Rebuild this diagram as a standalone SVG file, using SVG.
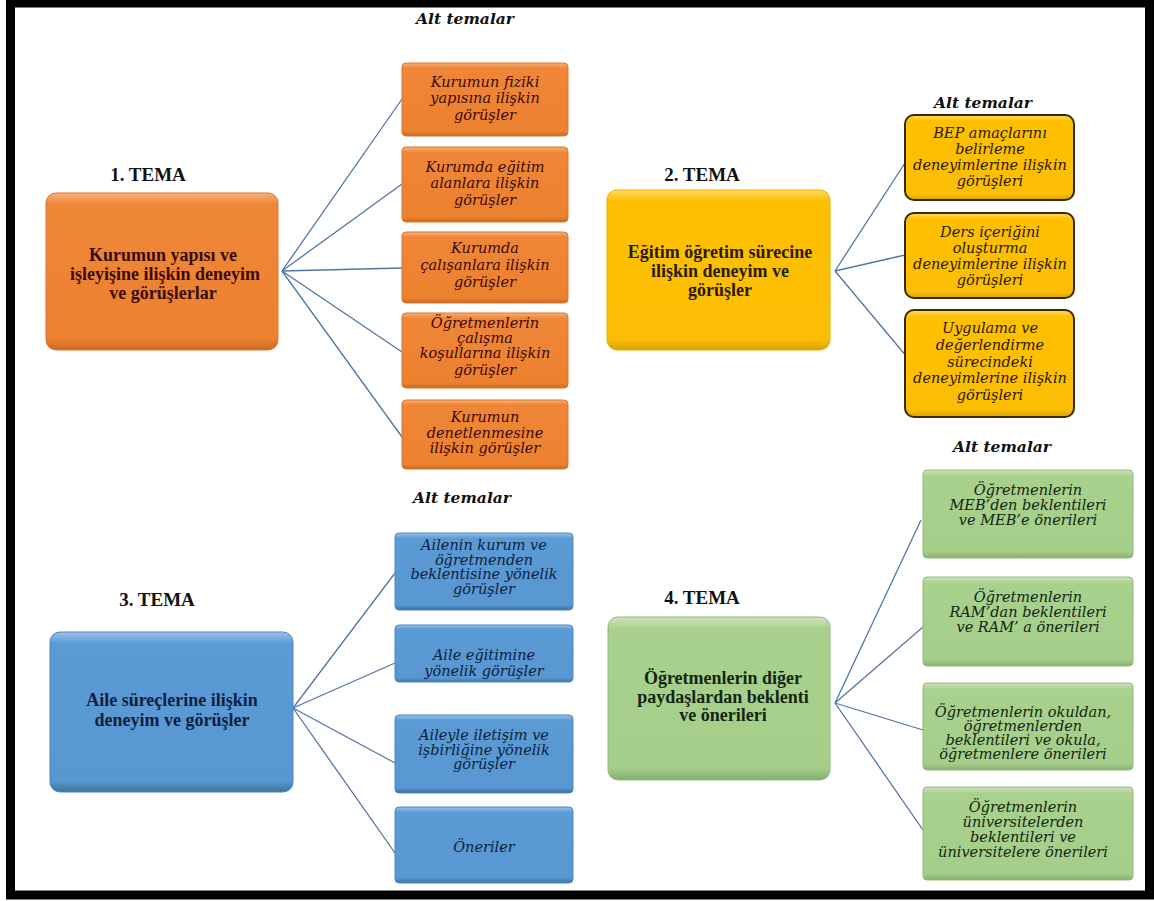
<svg xmlns="http://www.w3.org/2000/svg" width="1154" height="901" viewBox="0 0 1154 901">
<defs>
<linearGradient id="gO" x1="0" y1="0" x2="0" y2="1"><stop offset="0" stop-color="#F7B27A"/><stop offset="0.07" stop-color="#EF8638"/><stop offset="0.93" stop-color="#EC812F"/><stop offset="1" stop-color="#C96A22"/></linearGradient>
<linearGradient id="gY" x1="0" y1="0" x2="0" y2="1"><stop offset="0" stop-color="#FFD966"/><stop offset="0.07" stop-color="#FFC000"/><stop offset="0.93" stop-color="#FCBE05"/><stop offset="1" stop-color="#D9A300"/></linearGradient>
<linearGradient id="gB" x1="0" y1="0" x2="0" y2="1"><stop offset="0" stop-color="#9DC3E6"/><stop offset="0.07" stop-color="#5B9BD5"/><stop offset="0.93" stop-color="#5897D2"/><stop offset="1" stop-color="#41719C"/></linearGradient>
<linearGradient id="gG" x1="0" y1="0" x2="0" y2="1"><stop offset="0" stop-color="#CFE3C0"/><stop offset="0.07" stop-color="#A9D18E"/><stop offset="0.93" stop-color="#A6CE8B"/><stop offset="1" stop-color="#86AD6C"/></linearGradient>
</defs>
<style>
.frame{fill:none;stroke:#000;stroke-width:9}
.conn line{stroke:#4F77A6;stroke-width:1.3}
.tema{font-family:"Liberation Serif",serif;font-weight:bold;font-size:19px;fill:#111;text-anchor:middle}
.alt{font-family:"DejaVu Serif",serif;font-weight:bold;font-style:italic;font-size:15.5px;fill:#111;text-anchor:middle}
.main{font-family:"Liberation Serif",serif;font-weight:bold;font-size:18px;text-anchor:middle}
.sub{font-family:"DejaVu Serif",serif;font-style:italic;font-size:14.5px;text-anchor:middle}
.o .main,.o .sub{fill:#3A0A05}
.y .main,.y .sub{fill:#2A1A00}
.b .main,.b .sub{fill:#0E1E3C}
.g .main,.g .sub{fill:#122612}
.o rect{fill:url(#gO);stroke:#D9772C;stroke-width:1}
.y rect.m{fill:url(#gY);stroke:#E8B000;stroke-width:1}
.y rect.s{fill:url(#gY);stroke:#3A2C00;stroke-width:2}
.b rect{fill:url(#gB);stroke:#4A86C0;stroke-width:1}
.g rect{fill:url(#gG);stroke:#93BA78;stroke-width:1}
</style>
<rect x="0" y="0" width="1154" height="901" fill="#fff"/>
<rect class="frame" x="10.5" y="3" width="1139" height="892"/>

<text class="alt" x="465" y="24">Alt temalar</text>
<text class="alt" x="983" y="108">Alt temalar</text>
<text class="alt" x="462" y="503">Alt temalar</text>
<text class="alt" x="1002" y="452">Alt temalar</text>

<g class="conn">
<line x1="282" y1="271" x2="402" y2="99"/>
<line x1="282" y1="271" x2="402" y2="184"/>
<line x1="282" y1="271" x2="402" y2="268"/>
<line x1="282" y1="271" x2="402" y2="352"/>
<line x1="282" y1="271" x2="402" y2="437"/>
<line x1="835" y1="271" x2="905" y2="163"/>
<line x1="835" y1="271" x2="905" y2="255"/>
<line x1="835" y1="271" x2="907" y2="357"/>
<line x1="293" y1="708" x2="395" y2="573"/>
<line x1="293" y1="708" x2="395" y2="663"/>
<line x1="293" y1="708" x2="395" y2="763"/>
<line x1="293" y1="708" x2="395" y2="853"/>
<line x1="835" y1="703" x2="921" y2="520"/>
<line x1="835" y1="703" x2="923" y2="627"/>
<line x1="835" y1="703" x2="923" y2="730"/>
<line x1="835" y1="703" x2="923" y2="830"/>
</g>

<g id="tema1" class="o">
<text class="tema" x="148" y="181">1. TEMA</text>
<rect x="46" y="193" width="232" height="157" rx="10"/>
<text class="main" x="163" y="261">Kurumun yapısı ve</text>
<text class="main" x="165" y="280">işleyişine ilişkin deneyim</text>
<text class="main" x="163" y="299">ve görüşlerlar</text>
</g>
<g id="o1" class="o"><rect x="402" y="63" width="166" height="73" rx="4"/>
<text class="sub" x="485" y="87">Kurumun fiziki</text><text class="sub" x="485" y="103">yapısına ilişkin</text><text class="sub" x="485" y="120">görüşler</text></g>
<g id="o2" class="o"><rect x="402" y="147" width="166" height="75" rx="4"/>
<text class="sub" x="485" y="172">Kurumda eğitim</text><text class="sub" x="485" y="188">alanlara ilişkin</text><text class="sub" x="485" y="205">görüşler</text></g>
<g id="o3" class="o"><rect x="402" y="232" width="166" height="71" rx="4"/>
<text class="sub" x="485" y="253">Kurumda</text><text class="sub" x="485" y="270">çalışanlara ilişkin</text><text class="sub" x="485" y="287">görüşler</text></g>
<g id="o4" class="o"><rect x="402" y="313" width="166" height="75" rx="4"/>
<text class="sub" x="485" y="328">Öğretmenlerin</text><text class="sub" x="485" y="343">çalışma</text><text class="sub" x="485" y="358">koşullarına ilişkin</text><text class="sub" x="485" y="375">görüşler</text></g>
<g id="o5" class="o"><rect x="402" y="400" width="166" height="69" rx="4"/>
<text class="sub" x="485" y="422">Kurumun</text><text class="sub" x="485" y="438">denetlenmesine</text><text class="sub" x="485" y="453">ilişkin görüşler</text></g>

<g id="tema2" class="y">
<text class="tema" x="702" y="181">2. TEMA</text>
<rect class="m" x="607" y="190" width="223" height="160" rx="10"/>
<text class="main" x="720" y="258">Eğitim öğretim sürecine</text>
<text class="main" x="720" y="277">ilişkin deneyim ve</text>
<text class="main" x="720" y="296">görüşler</text>
</g>
<g id="y1" class="y"><rect class="s" x="905" y="115" width="169" height="85" rx="9"/>
<text class="sub" x="990" y="138">BEP amaçlarını</text><text class="sub" x="990" y="154">belirleme</text><text class="sub" x="990" y="170">deneyimlerine ilişkin</text><text class="sub" x="990" y="186">görüşleri</text></g>
<g id="y2" class="y"><rect class="s" x="905" y="213" width="169" height="85" rx="9"/>
<text class="sub" x="990" y="237">Ders içeriğini</text><text class="sub" x="990" y="253">oluşturma</text><text class="sub" x="990" y="269">deneyimlerine ilişkin</text><text class="sub" x="990" y="285">görüşleri</text></g>
<g id="y3" class="y"><rect class="s" x="905" y="310" width="169" height="107" rx="9"/>
<text class="sub" x="990" y="333">Uygulama ve</text><text class="sub" x="990" y="350">değerlendirme</text><text class="sub" x="990" y="367">sürecindeki</text><text class="sub" x="990" y="383">deneyimlerine ilişkin</text><text class="sub" x="990" y="400">görüşleri</text></g>

<g id="tema3" class="b">
<text class="tema" x="157" y="606">3. TEMA</text>
<rect x="50" y="632" width="243" height="160" rx="10"/>
<text class="main" x="172" y="706">Aile süreçlerine ilişkin</text>
<text class="main" x="172" y="726">deneyim ve görüşler</text>
</g>
<g id="b1" class="b"><rect x="395" y="533" width="178" height="77" rx="4"/>
<text class="sub" x="484" y="550">Ailenin kurum ve</text><text class="sub" x="484" y="565">öğretmenden</text><text class="sub" x="484" y="579">beklentisine yönelik</text><text class="sub" x="484" y="594">görüşler</text></g>
<g id="b2" class="b"><rect x="395" y="625" width="178" height="57" rx="4"/>
<text class="sub" x="484" y="660">Aile eğitimine</text><text class="sub" x="484" y="676">yönelik görüşler</text></g>
<g id="b3" class="b"><rect x="395" y="715" width="178" height="78" rx="4"/>
<text class="sub" x="484" y="740">Aileyle iletişim ve</text><text class="sub" x="484" y="755">işbirliğine yönelik</text><text class="sub" x="484" y="769">görüşler</text></g>
<g id="b4" class="b"><rect x="395" y="807" width="178" height="76" rx="4"/>
<text class="sub" x="484" y="852">Öneriler</text></g>

<g id="tema4" class="g">
<text class="tema" x="702" y="604">4. TEMA</text>
<rect x="608" y="617" width="222" height="163" rx="10"/>
<text class="main" x="723" y="684">Öğretmenlerin diğer</text>
<text class="main" x="723" y="703">paydaşlardan beklenti</text>
<text class="main" x="723" y="721">ve önerileri</text>
</g>
<g id="g1" class="g"><rect x="923" y="470" width="210" height="88" rx="4"/>
<text class="sub" x="1028" y="495">Öğretmenlerin</text><text class="sub" x="1028" y="510">MEB’den beklentileri</text><text class="sub" x="1028" y="525">ve MEB’e önerileri</text></g>
<g id="g2" class="g"><rect x="923" y="577" width="210" height="89" rx="4"/>
<text class="sub" x="1028" y="602">Öğretmenlerin</text><text class="sub" x="1028" y="617">RAM’dan beklentileri</text><text class="sub" x="1028" y="632">ve RAM’ a önerileri</text></g>
<g id="g3" class="g"><rect x="923" y="683" width="210" height="87" rx="4"/>
<text class="sub" x="1023" y="717">Öğretmenlerin okuldan,</text><text class="sub" x="1023" y="731">öğretmenlerden</text><text class="sub" x="1023" y="745">beklentileri ve okula,</text><text class="sub" x="1023" y="759">öğretmenlere önerileri</text></g>
<g id="g4" class="g"><rect x="923" y="787" width="210" height="93" rx="4"/>
<text class="sub" x="1023" y="812">Öğretmenlerin</text><text class="sub" x="1023" y="827">üniversitelerden</text><text class="sub" x="1023" y="842">beklentileri ve</text><text class="sub" x="1023" y="857">üniversitelere önerileri</text></g>
</svg>
